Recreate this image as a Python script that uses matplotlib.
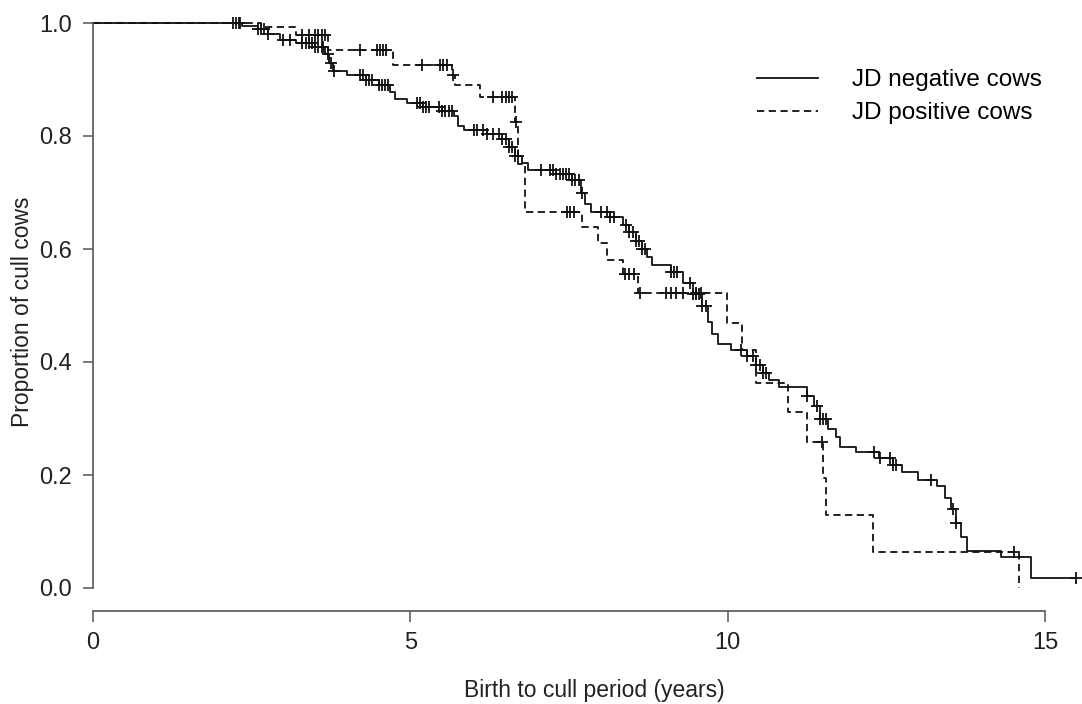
import numpy as np
import matplotlib.pyplot as plt

plt.rcParams['font.family'] = ['Liberation Sans', 'DejaVu Sans']

# Kaplan-Meier steps: time of drop (years), survival after drop
neg_times = [2.35, 2.6, 2.75, 2.95, 3.2, 3.5, 3.65, 3.72, 3.78, 4.0, 4.3, 4.5, 4.68,
             4.75, 4.95, 5.2, 5.5, 5.68, 5.75, 5.85, 6.2, 6.45, 6.55, 6.65, 6.75, 6.85,
             7.3, 7.55, 7.68, 7.75, 7.85, 8.15, 8.35, 8.45, 8.55, 8.65, 8.72, 8.8, 9.1,
             9.3, 9.45, 9.6, 9.68, 9.75, 9.85, 10.05, 10.3, 10.45, 10.55, 10.65, 10.8,
             11.25, 11.35, 11.45, 11.58, 11.7, 11.77, 12.02, 12.38, 12.6, 12.75, 13.0,
             13.3, 13.42, 13.52, 13.6, 13.68, 13.76, 14.3, 14.78]
neg_surv = [0.995, 0.99, 0.98, 0.97, 0.965, 0.958, 0.945, 0.93, 0.915, 0.908, 0.9, 0.89,
            0.878, 0.865, 0.858, 0.852, 0.845, 0.835, 0.818, 0.81, 0.803, 0.795, 0.78,
            0.765, 0.752, 0.74, 0.732, 0.722, 0.7, 0.68, 0.665, 0.657, 0.643, 0.63, 0.615,
            0.6, 0.585, 0.572, 0.56, 0.54, 0.52, 0.5, 0.47, 0.45, 0.432, 0.422, 0.41,
            0.395, 0.38, 0.368, 0.355, 0.34, 0.322, 0.3, 0.282, 0.268, 0.25, 0.24, 0.23,
            0.218, 0.205, 0.192, 0.18, 0.16, 0.14, 0.115, 0.09, 0.066, 0.055, 0.018]
neg_end = 15.49
neg_censor = [2.2, 2.25, 2.3, 2.32, 2.6, 2.65, 2.7, 2.75, 3.0, 3.1, 3.3, 3.35, 3.4, 3.45,
              3.5, 3.55, 3.6, 3.62, 3.7, 3.75, 3.8, 4.2, 4.25, 4.3, 4.35, 4.4, 4.5, 4.55,
              4.6, 4.65, 5.1, 5.15, 5.2, 5.25, 5.3, 5.45, 5.5, 5.55, 5.6, 5.65, 6.0, 6.05,
              6.15, 6.2, 6.3, 6.4, 6.45, 6.5, 6.55, 6.6, 6.65, 6.7, 7.05, 7.2, 7.25, 7.3,
              7.35, 7.4, 7.45, 7.5, 7.55, 7.6, 7.65, 7.7, 8.0, 8.1, 8.15, 8.2, 8.4, 8.45,
              8.5, 8.55, 8.6, 8.65, 8.7, 9.1, 9.15, 9.2, 9.4, 9.45, 9.5, 9.55, 9.6, 9.65,
              10.2, 10.3, 10.4, 10.45, 10.5, 10.55, 10.6, 11.25, 11.4, 11.45, 11.5, 11.55,
              12.3, 12.4, 12.55, 12.6, 12.65, 13.2, 13.55, 13.6, 15.49]

pos_times = [2.65, 3.2, 3.7, 4.73, 5.66, 5.7, 6.09, 6.64, 6.7, 6.8, 7.7, 7.95, 8.1, 8.35,
             8.58, 9.98, 10.22, 10.45, 10.94, 11.24, 11.5, 11.55, 12.28, 14.58]
pos_surv = [0.993, 0.978, 0.952, 0.926, 0.908, 0.89, 0.869, 0.825, 0.75, 0.666, 0.639,
            0.611, 0.58, 0.556, 0.522, 0.469, 0.421, 0.363, 0.312, 0.258, 0.195, 0.13,
            0.064, 0.0]
pos_end = 14.58
pos_censor = [3.3, 3.4, 3.5, 3.55, 3.6, 3.65, 4.2, 4.47, 4.52, 4.57, 4.62, 5.19, 5.46,
              5.52, 5.58, 5.67, 6.3, 6.45, 6.5, 6.55, 6.6, 6.67, 7.46, 7.52, 7.58, 8.38,
              8.45, 8.52, 8.62, 9.03, 9.1, 9.19, 9.29, 9.5, 9.58, 11.49, 14.51]


def km_curve(times, surv, end):
    t = np.concatenate([[0.0], times, [end]])
    s = np.concatenate([[1.0], surv, [surv[-1]]])
    return t, s


def surv_at(times, surv, pts):
    idx = np.searchsorted(times, pts, side='right')
    s = np.concatenate([[1.0], surv])
    return s[idx]


fig = plt.figure(figsize=(10.82, 7.04), dpi=100)
ax = fig.add_axes([93/1082, 1 - 588/704, (1077-93)/1082, (588-23)/704])

t, s = km_curve(neg_times, neg_surv, neg_end)
ax.step(t, s, where='post', color='#111111', lw=1.3, clip_on=False,
        label='JD negative cows')
ax.plot(neg_censor, surv_at(neg_times, neg_surv, neg_censor), '+', color='#111111',
        ms=9, mew=1.3, clip_on=False)

t, s = km_curve(pos_times, pos_surv, pos_end)
ax.step(t, s, where='post', color='#111111', lw=1.3, ls=(0, (4, 2.5)), clip_on=False,
        label='JD positive cows')
ax.plot(pos_censor, surv_at(pos_times, pos_surv, pos_censor), '+', color='#111111',
        ms=9, mew=1.3, clip_on=False)

ax.set_xlim(0, 15.5)
ax.set_ylim(0, 1)
ax.set_xticks([0, 5, 10, 15])
ax.set_yticks([0.0, 0.2, 0.4, 0.6, 0.8, 1.0])
ax.set_yticklabels(['0.0', '0.2', '0.4', '0.6', '0.8', '1.0'])

for side in ['top', 'right']:
    ax.spines[side].set_visible(False)
ax.spines['left'].set_bounds(0, 1)
ax.spines['bottom'].set_bounds(0, 15)
ax.spines['bottom'].set_position(('outward', 16.5))
for side in ['left', 'bottom']:
    ax.spines[side].set_color('#555555')
    ax.spines[side].set_linewidth(1.2)
ax.tick_params(axis='y', length=7, width=1.1, color='#555555', labelsize=17,
               labelcolor='#222222', pad=8)
ax.tick_params(axis='x', length=8, width=1.1, color='#555555', labelsize=17,
               labelcolor='#222222', pad=7)

ax.set_xlabel('Birth to cull period (years)', fontsize=16.5, color='#222222')
ax.set_ylabel('Proportion of cull cows', fontsize=16.5, color='#222222')
ax.xaxis.set_label_coords((594-93)/(1077-93), -(679-588)/565)
ax.yaxis.set_label_coords(-(93-34)/(1077-93), (588-312)/565)

ax.legend(loc='upper left', bbox_to_anchor=(0.675, 0.918), frameon=False, fontsize=17.5,
          handlelength=2.5, handletextpad=1.4, labelspacing=0.45, borderpad=0,
          borderaxespad=0)

fig.savefig('out.png', dpi=100, facecolor='white')
